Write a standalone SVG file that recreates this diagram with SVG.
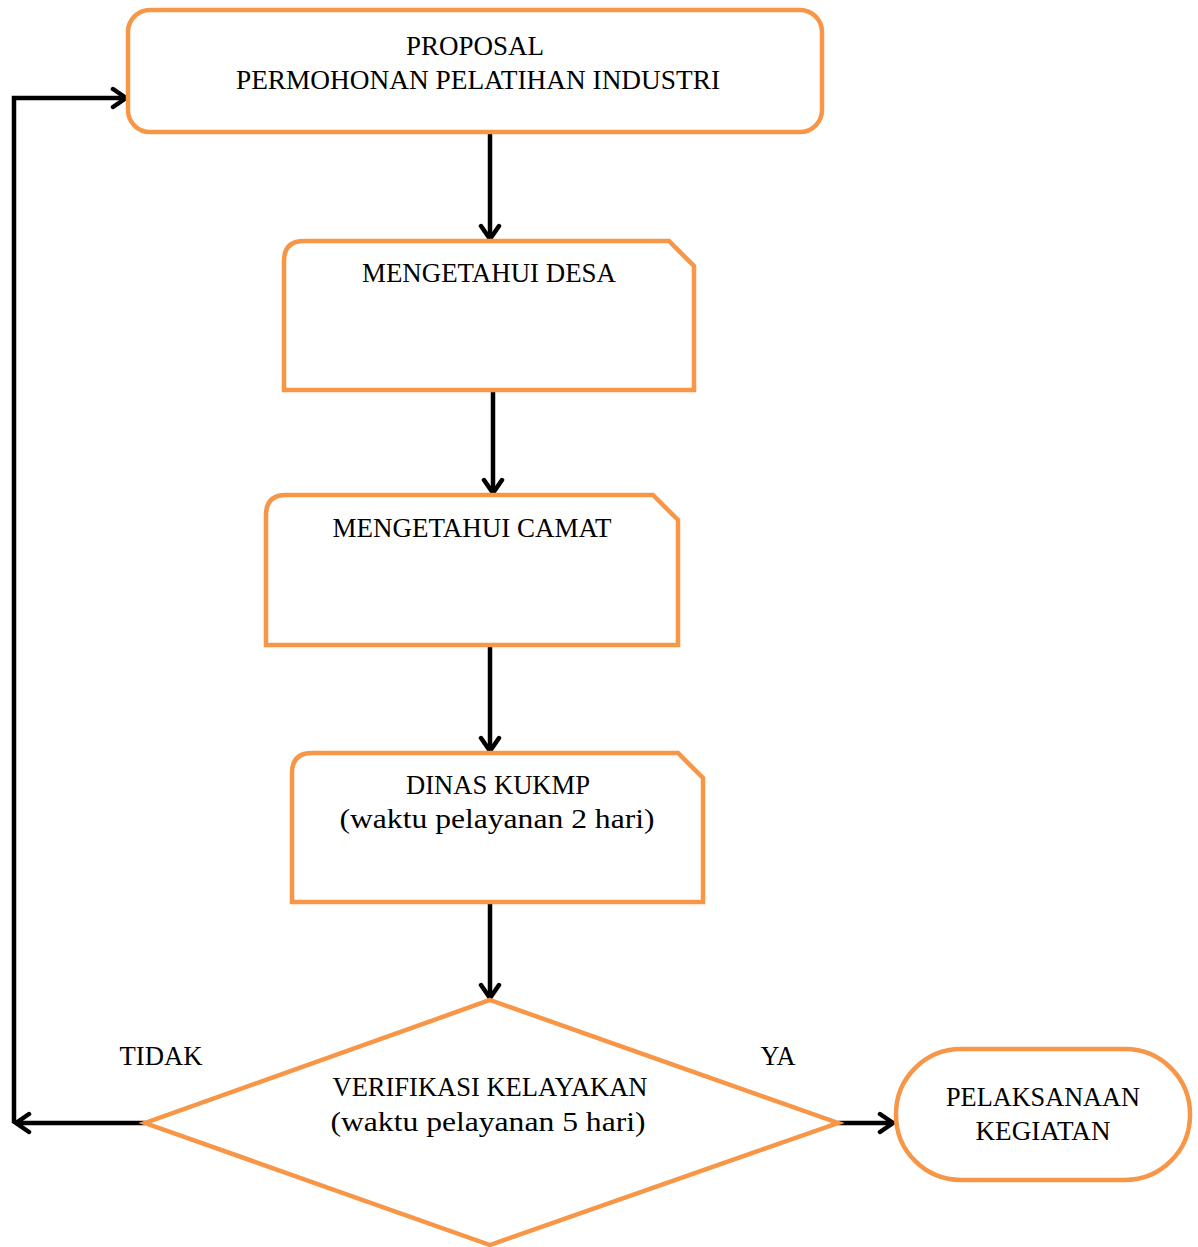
<svg xmlns="http://www.w3.org/2000/svg" width="1198" height="1247" viewBox="0 0 1198 1247">
<style>
.n{fill:#fff;stroke:#F79646;stroke-width:4.5}
.c{fill:none;stroke:#000;stroke-width:4.5}
text{font-family:"Liberation Serif","Times New Roman",serif;font-size:28px;fill:#000;text-anchor:middle}
</style>
<defs>
<marker id="ah" viewBox="0 0 24 24" refX="20" refY="12" markerWidth="24" markerHeight="24" markerUnits="userSpaceOnUse" orient="auto">
<path d="M7,3 L20,12 L7,21" fill="none" stroke="#000" stroke-width="4.5" stroke-linecap="round" stroke-linejoin="miter"/>
</marker>
</defs>
<rect width="1198" height="1247" fill="#fff"/>
<g id="connectors">
<line class="c" x1="490" y1="132" x2="490" y2="239" marker-end="url(#ah)"/>
<line class="c" x1="493" y1="390" x2="493" y2="493" marker-end="url(#ah)"/>
<line class="c" x1="490" y1="645" x2="490" y2="751" marker-end="url(#ah)"/>
<line class="c" x1="490" y1="902" x2="490" y2="998" marker-end="url(#ah)"/>
<line class="c" x1="145" y1="1123" x2="16" y2="1123" marker-end="url(#ah)"/>
<polyline class="c" points="14,1123 14,98 126,98" marker-end="url(#ah)"/>
<line class="c" x1="838" y1="1123" x2="893" y2="1123" marker-end="url(#ah)"/>
</g>
<g id="proposal">
<rect class="n" x="128" y="10" width="694" height="122" rx="22"/>
<text x="475" y="55" textLength="138" lengthAdjust="spacingAndGlyphs">PROPOSAL</text>
<text x="478" y="89" textLength="484" lengthAdjust="spacingAndGlyphs">PERMOHONAN PELATIHAN INDUSTRI</text>
</g>
<g id="desa">
<path class="n" d="M304,241 H669 L694,266 V390 H284 V261 Q284,241 304,241 Z"/>
<text x="489" y="282" textLength="254" lengthAdjust="spacingAndGlyphs">MENGETAHUI DESA</text>
</g>
<g id="camat">
<path class="n" d="M286,495 H653 L678,520 V645 H266 V515 Q266,495 286,495 Z"/>
<text x="472" y="537" textLength="279" lengthAdjust="spacingAndGlyphs">MENGETAHUI CAMAT</text>
</g>
<g id="dinas">
<path class="n" d="M312,753 H678 L703,778 V902 H292 V773 Q292,753 312,753 Z"/>
<text x="498" y="794" textLength="184" lengthAdjust="spacingAndGlyphs">DINAS KUKMP</text>
<text x="497" y="828" textLength="315" lengthAdjust="spacingAndGlyphs">(waktu pelayanan 2 hari)</text>
</g>
<g id="verifikasi">
<polygon class="n" points="490,1000 838,1123 490,1245 145,1123"/>
<text x="490" y="1096" textLength="315" lengthAdjust="spacingAndGlyphs">VERIFIKASI KELAYAKAN</text>
<text x="488" y="1131" textLength="315" lengthAdjust="spacingAndGlyphs">(waktu pelayanan 5 hari)</text>
</g>
<g id="labels">
<text x="161" y="1065" textLength="83" lengthAdjust="spacingAndGlyphs">TIDAK</text>
<text x="778" y="1065" textLength="35" lengthAdjust="spacingAndGlyphs">YA</text>
</g>
<g id="pelaksanaan">
<rect class="n" x="896" y="1049" width="294" height="131" rx="65"/>
<text x="1043" y="1106" textLength="194" lengthAdjust="spacingAndGlyphs">PELAKSANAAN</text>
<text x="1043" y="1140" textLength="135" lengthAdjust="spacingAndGlyphs">KEGIATAN</text>
</g>
</svg>
